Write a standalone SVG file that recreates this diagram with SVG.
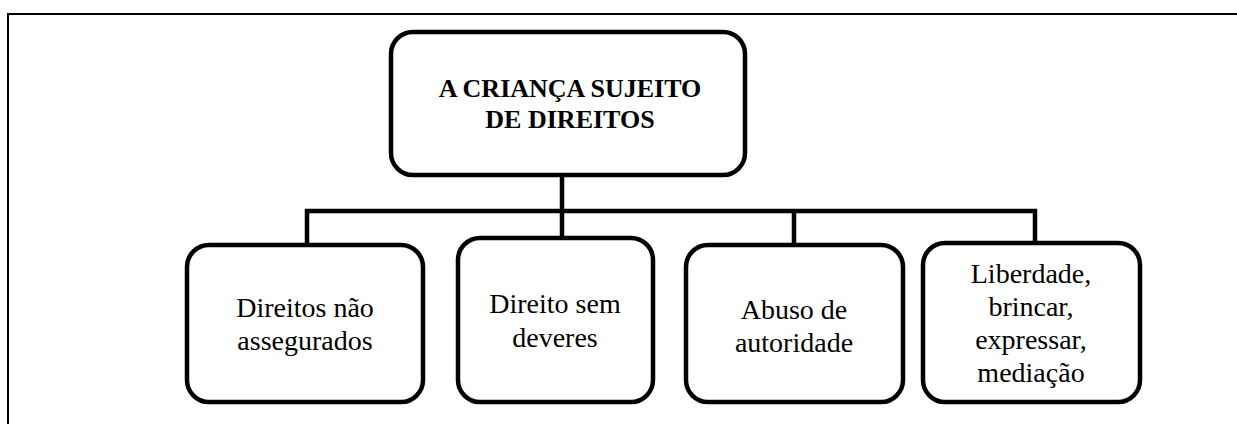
<svg xmlns="http://www.w3.org/2000/svg" width="1237" height="424" viewBox="0 0 1237 424">
<style>
.frame{fill:none;stroke:#000;stroke-width:2}
.box{fill:#fff;stroke:#000;stroke-width:4.5}
.conn{fill:none;stroke:#000;stroke-width:4.5}
text{font-family:'Liberation Serif','Tinos','DejaVu Serif',serif;fill:#000;text-anchor:middle}
.t{font-size:28px}
.tb{font-size:26px;font-weight:bold}
</style>
<rect width="1237" height="424" fill="#fff"/>
<path class="frame" d="M8,424 V14 H1237"/>
<g id="connectors">
<path class="conn" d="M562,175 V238"/>
<path class="conn" d="M307,245 V211 H1035 V245"/>
<path class="conn" d="M794,211 V245"/>
</g>
<g id="root">
<rect class="box" x="391" y="32" width="354" height="143" rx="22"/>
<text class="tb" x="570" y="97">A CRIANÇA SUJEITO</text>
<text class="tb" x="570" y="128">DE DIREITOS</text>
</g>
<g id="n1">
<rect class="box" x="187" y="245" width="236" height="157" rx="22"/>
<text class="t" x="305" y="317">Direitos não</text>
<text class="t" x="305" y="350">assegurados</text>
</g>
<g id="n2">
<rect class="box" x="458" y="238" width="195" height="164" rx="22"/>
<text class="t" x="555" y="313">Direito sem</text>
<text class="t" x="555" y="347">deveres</text>
</g>
<g id="n3">
<rect class="box" x="686" y="245" width="217" height="157" rx="22"/>
<text class="t" x="794" y="319">Abuso de</text>
<text class="t" x="794" y="352">autoridade</text>
</g>
<g id="n4">
<rect class="box" x="923" y="243" width="217" height="159" rx="22"/>
<text class="t" x="1031" y="283">Liberdade,</text>
<text class="t" x="1031" y="316">brincar,</text>
<text class="t" x="1031" y="349">expressar,</text>
<text class="t" x="1031" y="382">mediação</text>
</g>
</svg>
